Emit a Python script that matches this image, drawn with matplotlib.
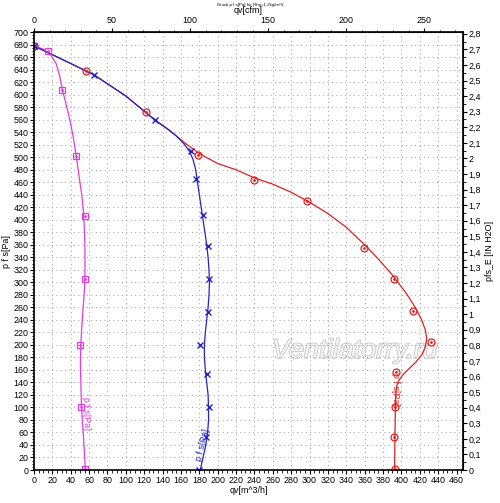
import matplotlib
matplotlib.use("Agg")
import matplotlib.pyplot as plt
from matplotlib.ticker import MultipleLocator, FixedLocator, FuncFormatter
import matplotlib.patheffects as pe

plt.rcParams['font.family'] = ['Liberation Sans', 'DejaVu Sans']

# smooth curves
mag_curve_qv = [0, 10, 18, 24, 28, 31, 35, 39, 43, 46, 49, 52, 54, 55, 55.5, 55.5, 55, 53.5, 52, 51,
                50.5, 51, 51.5, 52.5, 54, 55, 56]
mag_curve_p = [678, 673, 664, 650, 630, 607, 585, 560, 530, 502, 470, 440, 410, 380, 350, 320, 290, 260,
               230, 200, 170, 140, 110, 80, 50, 25, 0]

blue_curve_qv = [0, 30, 65, 100, 132, 145, 155, 163, 169, 173, 176, 178, 180, 182, 184, 186, 188, 189.5,
                 190.5, 191, 190.5, 189.5, 188, 186.5, 185.5, 185.5, 186.5, 188, 189.5, 190, 190, 189, 187,
                 184, 181]
blue_curve_p = [678, 657, 632, 598, 559, 546, 534, 522, 510, 497, 480, 460, 440, 420, 400, 380, 360, 340,
                320, 300, 280, 260, 240, 220, 200, 180, 160, 140, 120, 100, 80, 60, 40, 20, 0]

red_curve_qv = [0, 30, 65, 100, 132, 150, 165, 181, 200, 220, 240, 260, 280, 300, 320, 340, 360, 375, 390,
                405, 415, 422, 426, 427.5, 426, 422, 416, 409, 402, 397.5, 395, 394, 393.5, 393, 392.5]
red_curve_p = [678, 657, 632, 598, 559, 540, 522, 505, 490, 480, 467, 457, 444, 428, 410, 388, 360, 337,
               312, 283, 260, 240, 224, 210, 196, 184, 173, 163, 153, 144, 135, 125, 110, 60, 0]

# measured points
mag_pts_qv = [0, 15, 31, 46, 55, 56, 50, 51, 56]
mag_pts_p = [678, 670, 607, 502, 406, 305, 200, 101, 1]

blue_pts_qv = [0, 65, 132, 171, 176, 184, 189, 191, 189, 181, 188, 190, 187, 180]
blue_pts_p = [678, 632, 559, 510, 466, 408, 358, 305, 252, 200, 153, 100, 52, 0]

red_pts_qv = [0, 57, 122, 179, 239, 297, 359, 392, 413, 432, 394, 392.5, 391.7, 393]
red_pts_p = [678, 638, 573, 503, 463, 430, 355, 305, 254, 204, 156, 101, 53, 1]

cfm_ticks = [0, 50, 100, 150, 200, 250]
inh2o_ticks = [i / 10 for i in range(29)]

MAG = '#e03ce0'
BLUE = '#2424c8'
RED = '#e02020'

CFM = 0.588578   # m3/h -> cfm
INH2O = 249.089  # Pa per inch H2O
FS = 6.4

fig = plt.figure(figsize=(5, 5.03), dpi=100)
ax = fig.add_axes([0.068, 0.0656, 0.858, 0.8704])

ax.set_xlim(0, 467)
ax.set_ylim(0, 700)
ax.xaxis.set_major_locator(MultipleLocator(20))
ax.xaxis.set_minor_locator(MultipleLocator(5))
ax.yaxis.set_major_locator(MultipleLocator(20))
ax.yaxis.set_minor_locator(MultipleLocator(5))
ax.grid(True, which='major', color='#a0a0a0', linestyle=(0, (1, 3.5)), linewidth=0.7)
ax.tick_params(which='major', length=3, width=0.8, labelsize=FS, pad=1)
ax.tick_params(which='minor', length=1.8, width=0.6)
for s in ax.spines.values():
    s.set_linewidth(1.2)

# curves
ax.plot(red_curve_qv, red_curve_p, color=RED, lw=0.9)
ax.plot(mag_curve_qv, mag_curve_p, color=MAG, lw=0.9)
ax.plot(blue_curve_qv, blue_curve_p, color=BLUE, lw=0.9)

# markers
ax.plot(mag_pts_qv, mag_pts_p, 's', ms=5, mfc='none', mec=MAG, mew=0.9)
ax.plot(mag_pts_qv, mag_pts_p, '.', ms=2, color=MAG)
ax.plot(red_pts_qv, red_pts_p, 'o', ms=5, mfc='none', mec=RED, mew=0.9)
ax.plot(red_pts_qv, red_pts_p, '.', ms=2, color=RED)
ax.plot(blue_pts_qv, blue_pts_p, 'x', ms=5, color=BLUE, mew=1.0)

# curve labels
ax.text(57, 91, 'p f s[Pa]', color=MAG, fontsize=FS, rotation=-88, ha='center', va='center')
ax.text(184, 40, 'p f s[Pa]', color=BLUE, fontsize=FS, rotation=76, ha='center', va='center')
ax.text(393, 128, 'p f s[Pa]', color=RED, fontsize=FS, rotation=-90, ha='center', va='center')

# watermark
ax.text(0.748, 0.272, 'Ventilatorry.ru', transform=ax.transAxes, fontsize=19.5, style='italic',
        color='#f4f4f4', ha='center', va='center', zorder=0.5,
        path_effects=[pe.withStroke(linewidth=1.2, foreground='#c8c8c8')])

ax.set_xlabel('qv[m^3/h]', fontsize=FS, labelpad=1)
ax.set_ylabel('p f s[Pa]', fontsize=FS, labelpad=1.5)

# secondary axes
top = ax.secondary_xaxis('top', functions=(lambda x: x * CFM, lambda x: x / CFM))
top.xaxis.set_major_locator(FixedLocator(cfm_ticks))
top.xaxis.set_minor_locator(MultipleLocator(10))
top.tick_params(which='major', length=3, width=0.8, labelsize=FS, pad=2.5)
top.tick_params(which='minor', length=1.8, width=0.6)
top.set_xlabel('qv[cfm]', fontsize=FS, labelpad=2)

right = ax.secondary_yaxis('right', functions=(lambda p: p / INH2O, lambda v: v * INH2O))
right.yaxis.set_major_locator(FixedLocator(inh2o_ticks))
right.yaxis.set_minor_locator(MultipleLocator(0.05))
right.yaxis.set_major_formatter(FuncFormatter(lambda v, pos: ('%.1f' % v).rstrip('0').rstrip('.').replace('.', ',')))
right.tick_params(which='major', length=3, width=0.8, labelsize=FS, pad=1)
right.tick_params(which='minor', length=1.8, width=0.6)
right.set_ylabel('pfs_E [IN H2O]', fontsize=FS, labelpad=3)

fig.text(0.5, 0.994, 'Druck p f s[Pa] für Rho=1,2kg/m^3', fontsize=3.2, ha='center', va='top')

fig.savefig('out.png', dpi=100)
